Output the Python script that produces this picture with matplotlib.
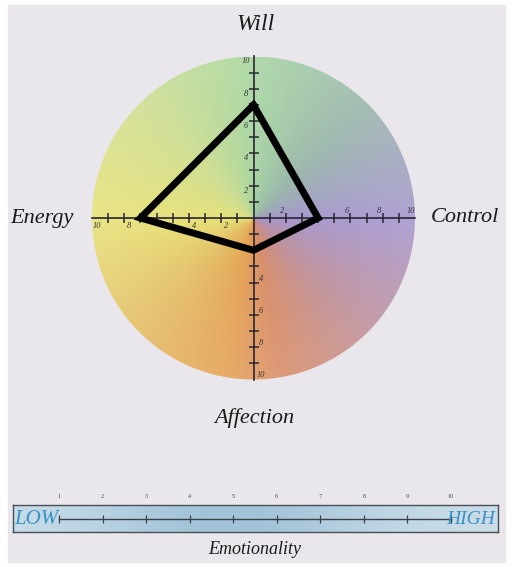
import numpy as np
import matplotlib
matplotlib.use('Agg')
import matplotlib.pyplot as plt
from matplotlib.patches import Circle, Rectangle
from matplotlib.colors import to_rgb

# ---- data ----
axis_names = ['Will', 'Control', 'Affection', 'Energy']
profile = [7, 4, 2, 7]              # Will (up), Control (right), Affection (down), Energy (left)
scale_ticks = list(range(1, 11))    # circle axis ticks
scale_labels = [2, 4, 6, 8, 10]
emotion_ticks = list(range(1, 11))
emotion_labels = [str(v) for v in emotion_ticks]

# hue wheel anchors: angle (deg, ccw from right) -> colour
wheel_angles = [0, 45, 90, 100, 135, 180, 225, 260, 280, 315, 360]
wheel_colors = ['#a596cd', '#98b4aa', '#a6d4a0', '#b0d79a', '#cfdd8e', '#e6e176',
                '#e3bb62', '#e4a052', '#d88c66', '#bf8e98', '#a596cd']

W, H = 512, 567
fig = plt.figure(figsize=(W / 100, H / 100), dpi=100, facecolor='white')

# page background
bg = fig.add_axes([0, 0, 1, 1])
bg.set_xlim(0, W)
bg.set_ylim(H, 0)
bg.axis('off')
bg.add_patch(Rectangle((8, 5), 497, 557, color='#e9e7eb', zorder=0))

serif = ['Liberation Serif', 'DejaVu Serif']
bg.text(256, 24, 'Will', fontsize=17, style='italic', family=serif, ha='center', va='center', color='#1a1a1a')
bg.text(42, 218, 'Energy', fontsize=16, style='italic', family=serif, ha='center', va='center', color='#1a1a1a')
bg.text(465, 218, 'Control', fontsize=16, style='italic', family=serif, ha='center', va='center', color='#1a1a1a')
bg.text(254, 418, 'Affection', fontsize=16, style='italic', family=serif, ha='center', va='center', color='#1a1a1a')
bg.text(255, 549, 'Emotionality', fontsize=13, style='italic', family=serif, ha='center', va='center', color='#1a1a1a')

# ---- circle chart ----
x0, x1, y0, y1 = 92, 415, 53, 383
ax = fig.add_axes([x0 / W, 1 - y1 / H, (x1 - x0) / W, (y1 - y0) / H])
ax.set_xlim(-10, 10)
ax.set_ylim(-10, 10)
ax.axis('off')

n = 400
g = np.linspace(-10, 10, n)
X, Y = np.meshgrid(g, g)
ang = np.degrees(np.arctan2(Y, X)) % 360
rad = np.hypot(X, Y) / 10
cols = np.array([to_rgb(c) for c in wheel_colors])
img = np.zeros((n, n, 3))
for k in range(3):
    img[..., k] = np.interp(ang, wheel_angles, cols[:, k])
img = img + (1 - img) * 0.12 * np.clip(rad, 0, 1)[..., None]
circ = Circle((0, 0), 10, transform=ax.transData, facecolor='none', edgecolor='none')
ax.add_patch(circ)
im = ax.imshow(img, extent=[-10, 10, -10, 10], origin='lower', zorder=1)
im.set_clip_path(circ)

axc = '#2b2533'
ax.plot([-10, 10], [0, 0], color=axc, lw=1.2, zorder=3, clip_on=False)
ax.plot([0, 0], [-10, 10], color=axc, lw=1.2, zorder=3, clip_on=False)
t = np.array(scale_ticks[:-1])
ax.plot(np.concatenate([t, -t]), np.zeros(2 * len(t)), ls='none', marker='|', ms=7, mew=1.1, color=axc, zorder=3)
ax.plot(np.zeros(2 * len(t)), np.concatenate([t, -t]), ls='none', marker='_', ms=7, mew=1.1, color=axc, zorder=3)

lab = dict(fontsize=6, style='italic', family=serif, color='#333333', ha='center', va='center', zorder=4, clip_on=False)
for v in scale_labels:
    ax.text(v - 0.25, 0.45, str(v), **lab)      # right: above
    ax.text(-v + 0.3, -0.5, str(v), **lab)      # left: below
    ax.text(-0.45, v - 0.3, str(v), **lab)      # up: left
    ax.text(0.45, -v + 0.25, str(v), **lab)     # down: right

will, control, affection, energy = profile
px = [0, control, 0, -energy, 0]
py = [will, 0, -affection, 0, will]
ax.plot(px, py, color='black', lw=5, solid_joinstyle='miter', zorder=5, clip_on=False)

# ---- emotionality bar ----
bx0, bx1, by0, by1 = 13, 498, 505, 532
bax = fig.add_axes([bx0 / W, 1 - by1 / H, (bx1 - bx0) / W, (by1 - by0) / H])
px_per = (451 - 59) / 9
bax.set_xlim(1 - (59 - bx0) / px_per, 10 + (bx1 - 451) / px_per)
bax.set_ylim(0, 1)
bax.set_xticks([])
bax.set_yticks([])
for s in bax.spines.values():
    s.set_color('#4a4f55')
    s.set_linewidth(1.0)
grad = np.linspace(0, 1, 256)
bar_l, bar_m, bar_r = np.array(to_rgb('#cadfea')), np.array(to_rgb('#a2c3d8')), np.array(to_rgb('#cbdde8'))
w = np.exp(-((grad - 0.45) / 0.3) ** 2)
edge = bar_l * (1 - grad[:, None]) + bar_r * grad[:, None]
bimg = edge * (1 - w[:, None]) + bar_m * w[:, None]
bax.imshow(bimg[None, :, :], extent=[*bax.get_xlim(), 0, 1], aspect='auto', zorder=0)
bax.plot([emotion_ticks[0], emotion_ticks[-1]], [0.5, 0.5], color='#3a4048', lw=1.0, zorder=2)
bax.plot(emotion_ticks, [0.5] * len(emotion_ticks), ls='none', marker='|', ms=6, mew=0.9, color='#3a4048', zorder=2)
for v, s in zip(emotion_ticks, emotion_labels):
    bax.text(v, 1.3, s, fontsize=4.5, family=serif, color='#444444', ha='center', va='center', clip_on=False)
blue = '#3a8fc4'
bax.text(0.003, 0.48, 'LOW', transform=bax.transAxes, fontsize=15, style='italic', family=serif, color=blue, ha='left', va='center')
bax.text(0.995, 0.48, 'HIGH', transform=bax.transAxes, fontsize=14, style='italic', family=serif, color=blue, ha='right', va='center')

fig.savefig('out.png', dpi=100, facecolor='white')
